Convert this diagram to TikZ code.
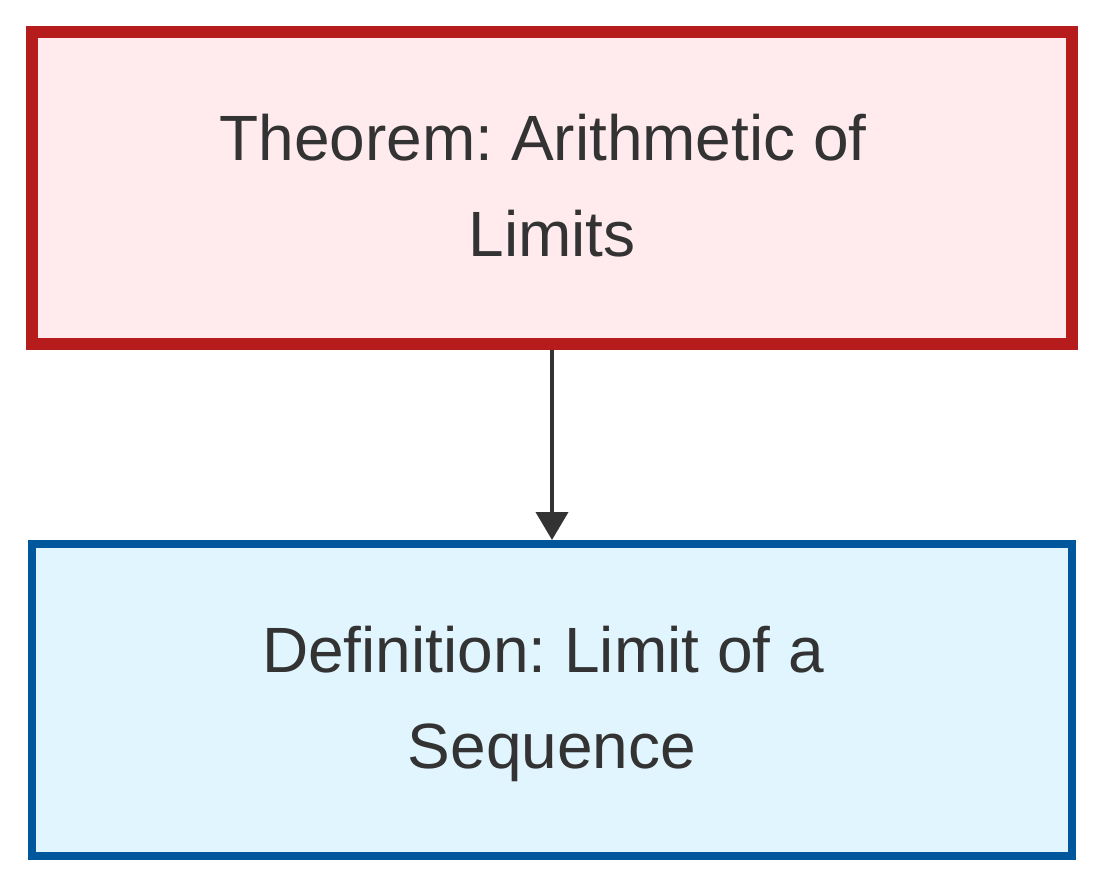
\documentclass[tikz,border=0pt]{standalone}
\usepackage{fontspec}
\setmainfont{Liberation Sans}
\usetikzlibrary{arrows.meta}
\frenchspacing
\definecolor{thmfill}{HTML}{FFEBEE}
\definecolor{thmdraw}{HTML}{B71C1C}
\definecolor{deffill}{HTML}{E1F5FE}
\definecolor{defdraw}{HTML}{01579B}
\definecolor{ink}{HTML}{333333}
\newcommand\topstrut{\rule{0pt}{48pt}}
\newcommand\botstrut{\rule[-7pt]{0pt}{7pt}}
\newcommand\nodepth[1]{\raisebox{0pt}[\height][0pt]{#1}}
\newcommand\trailsp{\hbox to 0.278em{}}
\begin{document}
\begin{tikzpicture}[x=1pt,y=-1pt,
  boxbase/.style={rectangle, inner sep=0pt, minimum width=1040pt, minimum height=312pt,
    align=center, text=ink, font=\fontsize{64}{96}\selectfont\frenchspacing},
  thmbox/.style={boxbase, draw=thmdraw, fill=thmfill, line width=12pt},
  defbox/.style={boxbase, draw=defdraw, fill=deffill, line width=8pt},
  link/.style={draw=ink, line width=4pt, -{Triangle[length=28pt,width=32pt]}}]
\useasboundingbox (0,0) rectangle (1104,888);
\node[thmbox] (thm) at (552,188) {\topstrut Theorem: Arithmetic of\trailsp\\ \nodepth{Limits}\botstrut};
\node[defbox] (def) at (552,700) {\topstrut Definition: Limit of a\trailsp\\ \nodepth{Sequence}\botstrut};
\draw[link] (thm.south) -- (def.north);
\end{tikzpicture}
\end{document}
